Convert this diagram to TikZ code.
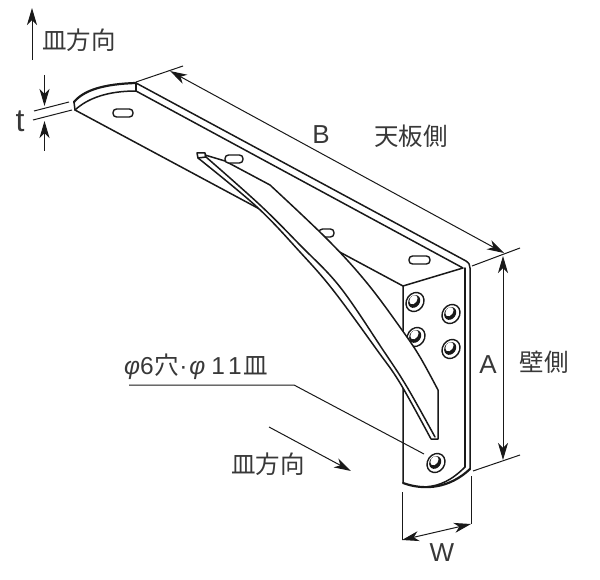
\documentclass[tikz,border=0pt]{standalone}
\usepackage{fontspec}
\setmainfont{Liberation Sans}
\newfontfamily\cjk{Noto Sans CJK JP}
\usetikzlibrary{arrows.meta}
\tikzset{
  tipstyle/.tip={Stealth[length=17pt,width=10pt,inset=5pt]},
  part/.style={line width=1.5pt,black!90,line join=round,line cap=round},
  thick part/.style={line width=2.2pt,black!90,line cap=round},
  thin line/.style={line width=1pt,black!90},
  dim/.style={thin line,tipstyle-tipstyle},
  dimone/.style={thin line,-tipstyle},
  label/.style={inner sep=0pt,text=black!78,font=\fontsize{24.5}{25}\selectfont},
  slot/.style={line width=1.4pt,black!90,fill=white,rounded corners=3.5pt},
  hole/.pic={
    \draw[line width=1.4pt,black!90,fill=white,rotate=55] (0,0) ellipse[x radius=10pt,y radius=8.5pt];
    \fill[black!90,rotate=55] (0,-1) ellipse[x radius=6.8pt,y radius=5.6pt];
    \fill[white,rotate=55] (1,-2.6) ellipse[x radius=5pt,y radius=3.6pt];
  }
}
\begin{document}
\begin{tikzpicture}[x=1pt,y=-1pt]
\useasboundingbox (0,0) rectangle (600,580);
% wall and plate edges
\draw[part] (136,91) -- (463,268) -- (403,286);
\draw[part] (136,83) -- (466,261) .. controls (469,263) and (470,265) .. (470,268) -- (470,469);
\draw[part] (465,268) -- (465,467);
\draw[part] (75,110) -- (403,286) -- (403,483);
\draw[thick part] (74,102) .. controls (84,90) and (104,84) .. (136,83);
\draw[part] (75,110) .. controls (88,98) and (108,91) .. (136,91);
\draw[part] (74,102) -- (75,110);
\draw[part] (136,83) -- (136,91);
\draw[thick part] (403,483) .. controls (425,491) and (450,488) .. (470,469);
\draw[part] (425,487) .. controls (440,486) and (452,480) .. (465,467);
% slots
\draw[slot] (113,109) rectangle (133,117);
\draw[slot] (409,256) rectangle (430,264);
\draw[slot] (319,229) rectangle (334,237);
% holes
\pic at (415,302) {hole};
\pic at (451,314) {hole};
\pic at (416,337) {hole};
\pic at (451,349) {hole};
\pic at (436,463) {hole};
% rib
\fill[white] (206,156) -- (225,161) -- (270,185) -- plot[smooth,tension=0.6] coordinates {(270,185) (328,240) (367,283) (402,330) (420,357) (438,390)} -- (438,439) -- (431,439) -- plot[smooth,tension=0.6] coordinates {(431,439) (400,383) (377,350) (333,290) (300,252) (257,207) (198,158)} -- cycle;
\draw[part] (197,153) -- (205,153) -- (206,157) -- (198,158) -- cycle;
\draw[part] (205,155) -- (225,161) -- (270,185) -- plot[smooth,tension=0.6] coordinates {(270,185) (328,240) (367,283) (402,330) (420,357) (438,390)} -- (438,439) -- (431,439) -- plot[smooth,tension=0.6] coordinates {(431,439) (400,383) (377,350) (333,290) (300,252) (257,207) (198,158)};
\draw[part] plot[smooth,tension=0.6] coordinates {(206,157) (260,205) (300,245) (340,287) (383,350) (407,387) (435,437)};
\draw[slot] (225,155) rectangle (243,163);
% extension lines and dimensions
\coordinate (bs) at (136,82); \coordinate (bt) at (183,66);
\coordinate (be) at (472,266); \coordinate (bu) at (520,248);
\coordinate (al) at (473,471); \coordinate (alu) at (520,455);
\coordinate (wl) at (402,492); \coordinate (wlb) at (402,540);
\coordinate (wr) at (471,476); \coordinate (wrb) at (471,524);
\draw[thin line] (bs) -- (bt);
\draw[thin line] (be) -- (bu);
\draw[thin line] (al) -- (alu);
\draw[thin line] (wl) -- (wlb);
\draw[thin line] (wr) -- (wrb);
\coordinate (b1) at (170,71); \coordinate (b2) at (504,253);
\draw[dim] (b1) -- (b2);
\coordinate (a1) at (503,256); \coordinate (a2) at (503,460);
\draw[dim] (a1) -- (a2);
\draw[dim] (wlb) -- (wrb);
% t
\coordinate (t1a) at (34,111); \coordinate (t1b) at (69,102);
\coordinate (t2a) at (33,120); \coordinate (t2b) at (72,110);
\draw[thin line] (t1a) -- (t1b);
\draw[thin line] (t2a) -- (t2b);
\coordinate (ta) at (44.5,75); \coordinate (tb) at (44.5,106);
\coordinate (tc) at (44.5,151); \coordinate (td) at (44.5,121);
\draw[dimone] (ta) -- (tb);
\draw[dimone] (tc) -- (td);
% direction arrows
\coordinate (u1) at (32,60); \coordinate (u2) at (32,8);
\draw[dimone] (u1) -- (u2);
\coordinate (d1) at (269,427); \coordinate (d2) at (351,471);
\draw[dimone] (d1) -- (d2);
% leader
\coordinate (l1) at (129,385); \coordinate (l2) at (294,385); \coordinate (l3) at (424,454);
\draw[thin line] (l1) -- (l2) -- (l3);
% labels
\node[label] (n1) at (79,40) {\cjk 皿方向};
\node[label,font=\fontsize{32}{32}\selectfont] (n2) at (20,121) {t};
\node[label,font=\fontsize{26}{26}\selectfont] (n3) at (321,135) {B};
\node[label] (n4) at (411,136) {\cjk 天板側};
\node[label,font=\fontsize{26}{26}\selectfont] (n5) at (488,365) {A};
\node[label] (n6) at (544,362) {\cjk 壁側};
\node[label,font=\fontsize{26}{26}\selectfont] (n7) at (442,553) {W};
\node[label] (n8) at (268,464) {\cjk 皿方向};
\node[label,anchor=west] (n9) at (124,367) {\itshape φ\upshape 6\kern1pt\cjk 穴\rmfamily ·\kern2pt\itshape φ\upshape\kern6pt 1\kern3pt 1\kern2pt\cjk 皿};
\end{tikzpicture}
\end{document}
